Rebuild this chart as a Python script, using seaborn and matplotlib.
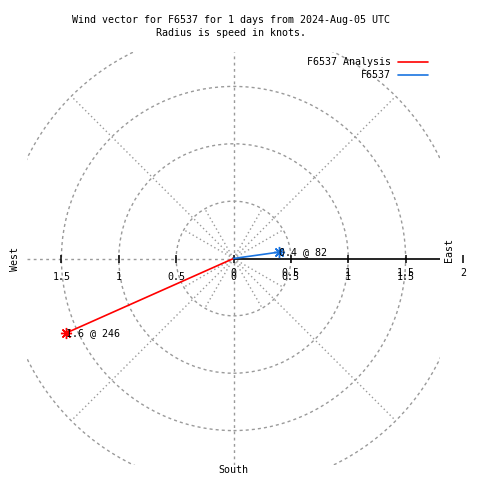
import numpy as np
import pandas as pd
import matplotlib
matplotlib.use("Agg")
import matplotlib.pyplot as plt
from matplotlib.lines import Line2D
from matplotlib.patches import Circle
import seaborn as sns

# vectors: speed in knots, direction in compass degrees
SERIES = ["F6537 Analysis", "F6537"]
SPEEDS = [1.6, 0.4]
DIRECTIONS = [246, 82]
COLORS = ["#ff0000", "#1a74e0"]

RINGS = [0.5, 1.0, 1.5, 2.0]
TICK_VALUES = [0.5, 1.0, 1.5]
TICK_LABELS = ["0.5", "1", "1.5"]
LIMIT = 1.8

TITLE_1 = "Wind vector for F6537 for 1 days from 2024-Aug-05 UTC"
TITLE_2 = "Radius is speed in knots."

sns.set_style("white")
plt.rcParams["font.family"] = ["DejaVu Sans Mono"]
plt.rcParams["text.color"] = "black"
FS = 7.2
GRID = "#9a9a9a"

fig = plt.figure(figsize=(4.8, 4.8), dpi=100)
ax = fig.add_axes([27 / 480, 15 / 480, 413 / 480, 413 / 480])
ax.set_xlim(-LIMIT, LIMIT)
ax.set_ylim(-LIMIT, LIMIT)
ax.set_axis_off()

# rings
for r in RINGS:
    ax.add_patch(Circle((0, 0), r, fill=False, ec=GRID, lw=1, ls=(0, (2.2, 2.2))))

# spokes: diagonals out to the last ring, finer ones near the centre
for ang in [45, 135, 225, 315]:
    a = np.deg2rad(ang)
    ax.plot([0, 2 * np.cos(a)], [0, 2 * np.sin(a)], color=GRID, lw=1, ls=(0, (1, 2)))
for ang in [30, 60, 120, 150, 210, 240, 300, 330]:
    a = np.deg2rad(ang)
    ax.plot([0, 0.5 * np.cos(a)], [0, 0.5 * np.sin(a)], color=GRID, lw=1, ls=(0, (1, 2)))
ax.plot([0, 0], [-LIMIT, LIMIT], color=GRID, lw=1, ls=(0, (2, 2.5)))
ax.plot([-LIMIT, 0], [0, 0], color=GRID, lw=1, ls=(0, (2, 2.5)))

# east axis line with ticks
ax.plot([0, LIMIT], [0, 0], color="black", lw=1.2)
tick_x = [-v for v in TICK_VALUES] + [0] + TICK_VALUES + [2.0]
ax.plot(tick_x, [0] * len(tick_x), ls="none", marker="|", ms=6, mew=1.1,
        color="black", clip_on=False)

for v, lab in zip(TICK_VALUES, TICK_LABELS):
    ax.annotate(lab, (-v, 0), xytext=(0, -18), textcoords="offset pixels",
                ha="center", va="center", fontsize=FS)
for v, lab in zip([0] + TICK_VALUES, ["0"] + TICK_LABELS):
    for dy in (-18, -15):
        ax.annotate(lab, (v, 0), xytext=(0, dy), textcoords="offset pixels",
                    ha="center", va="center", fontsize=FS)
ax.annotate("2", (2.0, 0), xytext=(0, -14), textcoords="offset pixels",
            ha="center", va="center", fontsize=FS, annotation_clip=False)

# vectors
rows = []
for name, spd, d in zip(SERIES, SPEEDS, DIRECTIONS):
    a = np.deg2rad(90 - d)
    rows.append({"series": name, "x": 0.0, "y": 0.0})
    rows.append({"series": name, "x": spd * np.cos(a), "y": spd * np.sin(a)})
vec = pd.DataFrame(rows)
sns.lineplot(data=vec, x="x", y="y", hue="series", palette=dict(zip(SERIES, COLORS)),
             sort=False, estimator=None, legend=False, lw=1.2, ax=ax)

for name, spd, d, c in zip(SERIES, SPEEDS, DIRECTIONS, COLORS):
    a = np.deg2rad(90 - d)
    ex, ey = spd * np.cos(a), spd * np.sin(a)
    ax.plot([ex], [ey], marker=(8, 2, 0), ms=8, mew=1, color=c)
    ax.annotate(f"{spd:g} @ {d}", (ex, ey), xytext=(0, 0), textcoords="offset pixels",
                ha="left", va="center", fontsize=FS)

# compass labels
fig.text(15 / 480, 1 - 259 / 480, "West", rotation=90, ha="center", va="center", fontsize=FS)
fig.text(449 / 480, 1 - 250 / 480, "East", rotation=90, ha="center", va="center", fontsize=FS)
fig.text(233 / 480, 1 - 470 / 480, "South", ha="center", va="center", fontsize=FS)

# titles
fig.text(231.5 / 480, 1 - 20 / 480, TITLE_1, ha="center", va="center", fontsize=FS)
fig.text(231.5 / 480, 1 - 33 / 480, TITLE_2, ha="center", va="center", fontsize=FS)

handles = [Line2D([0], [0], color=c, lw=1.2) for c in COLORS]
ax.legend(handles, SERIES, loc="upper right", bbox_to_anchor=(428 / 480, 1 - 57 / 480),
          bbox_transform=fig.transFigure, frameon=False, markerfirst=False,
          handlelength=3, handletextpad=0.7, labelspacing=0.3, fontsize=FS,
          borderpad=0, borderaxespad=0)

fig.savefig("out.png", dpi=100)
